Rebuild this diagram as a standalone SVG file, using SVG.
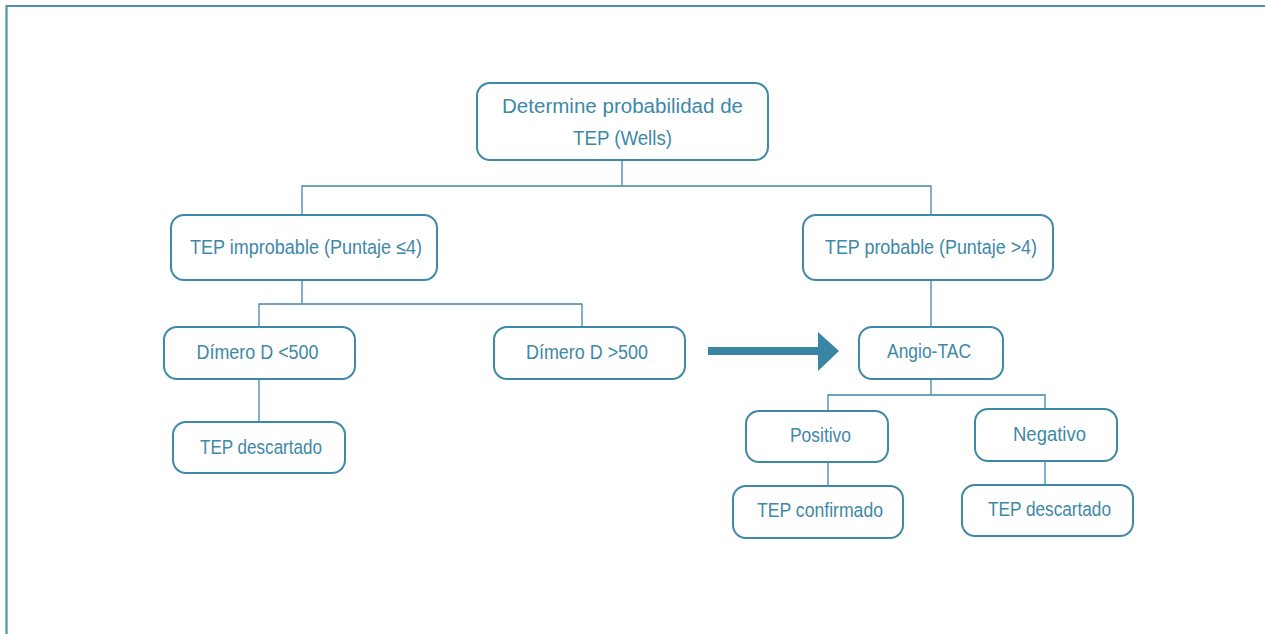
<svg xmlns="http://www.w3.org/2000/svg" width="1265" height="634" viewBox="0 0 1265 634">
<style>
.box{fill:#ffffff;stroke:#3e88a8;stroke-width:2}
.t{font-family:"Liberation Sans",Arial,sans-serif;font-size:20.5px;fill:#3e88a8;text-anchor:middle}
.c{fill:none;stroke:#3e88a8;stroke-width:1.3}
</style>
<rect width="1265" height="634" fill="#ffffff"/>
<path d="M6.5,634 V6 H1265" fill="none" stroke="#4b92b3" stroke-width="2.2"/>
<g id="connectors">
<path class="c" d="M622,160 V186 M302,215 V186 H931 V215"/>
<path class="c" d="M302,280 V304 M259,327 V304 H582 V327"/>
<path class="c" d="M259,379 V422"/>
<path class="c" d="M931,280 V327"/>
<path class="c" d="M931,379 V395 M828,411 V395 H1045 V409"/>
<path class="c" d="M828,462 V486"/>
<path class="c" d="M1045,461 V485"/>
<path d="M708,347 H818 V332 L839,351 L818,371 V355 H708 Z" fill="#3a85a4"/>
</g>
<g id="n-wells">
<rect class="box" x="477" y="83" width="291" height="77" rx="13"/>
<text class="t" x="622.5" y="113" textLength="241" lengthAdjust="spacingAndGlyphs">Determine probabilidad de</text>
<text class="t" x="622.5" y="145" textLength="99" lengthAdjust="spacingAndGlyphs">TEP (Wells)</text>
</g>
<g id="n-improbable">
<rect class="box" x="171" y="215" width="266" height="65" rx="13"/>
<text class="t" x="306" y="254" textLength="232" lengthAdjust="spacingAndGlyphs">TEP improbable (Puntaje ≤4)</text>
</g>
<g id="n-probable">
<rect class="box" x="803" y="215" width="250" height="65" rx="13"/>
<text class="t" x="931" y="254" textLength="212" lengthAdjust="spacingAndGlyphs">TEP probable (Puntaje &gt;4)</text>
</g>
<g id="n-dimero-low">
<rect class="box" x="164" y="327" width="191" height="52" rx="13"/>
<text class="t" x="257.5" y="359" textLength="122" lengthAdjust="spacingAndGlyphs">Dímero D &lt;500</text>
</g>
<g id="n-dimero-high">
<rect class="box" x="494" y="327" width="191" height="52" rx="13"/>
<text class="t" x="587" y="359" textLength="122" lengthAdjust="spacingAndGlyphs">Dímero D &gt;500</text>
</g>
<g id="n-descartado-1">
<rect class="box" x="173" y="422" width="172" height="51" rx="13"/>
<text class="t" x="261" y="454" textLength="122" lengthAdjust="spacingAndGlyphs">TEP descartado</text>
</g>
<g id="n-angio">
<rect class="box" x="859" y="327" width="144" height="52" rx="13"/>
<text class="t" x="929" y="358" textLength="84" lengthAdjust="spacingAndGlyphs">Angio-TAC</text>
</g>
<g id="n-positivo">
<rect class="box" x="746" y="411" width="142" height="51" rx="13"/>
<text class="t" x="820.5" y="442" textLength="61" lengthAdjust="spacingAndGlyphs">Positivo</text>
</g>
<g id="n-negativo">
<rect class="box" x="975" y="409" width="142" height="52" rx="13"/>
<text class="t" x="1049.5" y="441" textLength="73" lengthAdjust="spacingAndGlyphs">Negativo</text>
</g>
<g id="n-confirmado">
<rect class="box" x="733" y="486" width="170" height="52" rx="13"/>
<text class="t" x="820" y="517" textLength="126" lengthAdjust="spacingAndGlyphs">TEP confirmado</text>
</g>
<g id="n-descartado-2">
<rect class="box" x="962" y="485" width="171" height="51" rx="13"/>
<text class="t" x="1049.5" y="516" textLength="123" lengthAdjust="spacingAndGlyphs">TEP descartado</text>
</g>
</svg>
